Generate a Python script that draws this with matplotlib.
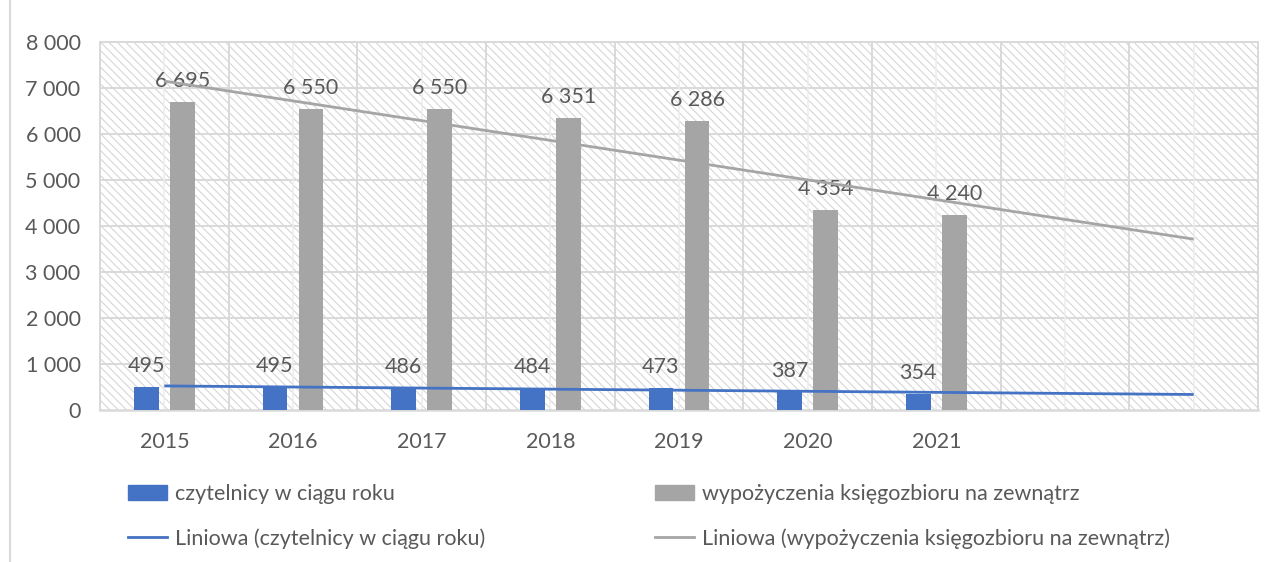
import numpy as np
import matplotlib
matplotlib.use("Agg")
import matplotlib.pyplot as plt
from matplotlib.patches import Rectangle
from matplotlib.lines import Line2D
from matplotlib.ticker import FuncFormatter, MultipleLocator

# ---- data ----
years = ["2015", "2016", "2017", "2018", "2019", "2020", "2021", "", ""]
readers = [495, 495, 486, 484, 473, 387, 354]
loans = [6695, 6550, 6550, 6351, 6286, 4354, 4240]
series_names = ["czytelnicy w ciągu roku", "wypożyczenia księgozbioru na zewnątrz"]
trend_names = ["Liniowa (czytelnicy w ciągu roku)", "Liniowa (wypożyczenia księgozbioru na zewnątrz)"]

BLUE = "#4472C4"
GREY = "#A5A5A5"
TXT = "#595959"
GRID = "#D9D9D9"

plt.rcParams["font.family"] = ["Lato", "DejaVu Sans"]
plt.rcParams["hatch.linewidth"] = 0.75
FS = 15.5

W, H = 1273, 562
fig = plt.figure(figsize=(W / 100, H / 100), dpi=100)
ax = fig.add_axes([100 / W, 1 - 410 / H, (1258 - 100) / W, (410 - 42) / H])

n = len(years)
x = np.arange(n)
ax.set_xlim(-0.5, n - 0.5)
ax.set_ylim(0, 8000)

# hatched background
bg = Rectangle((0, 0), 1, 1, transform=ax.transAxes, facecolor="white",
               edgecolor="#D4D4D4", hatch="\\\\\\\\", linewidth=0, zorder=0)
ax.add_patch(bg)
ax.set_facecolor("white")

# grid
for v in range(1000, 8001, 1000):
    ax.axhline(v, color=GRID, lw=1.4, zorder=1)
for b in np.arange(0.5, n - 0.5, 1.0):
    ax.axvline(b, color=GRID, lw=1.4, zorder=1)
for c in x:
    ax.axvline(c, color="#EDEDED", lw=1.2, zorder=1)

for s in ["top", "right", "left"]:
    ax.spines[s].set_color(GRID)
    ax.spines[s].set_linewidth(1.4)
ax.spines["bottom"].set_color(GRID)
ax.spines["bottom"].set_linewidth(1.8)

bw = 0.19
off = 0.14
xi = np.arange(len(readers))
b1 = ax.bar(xi - off, readers, width=bw, color=BLUE, zorder=3, label=series_names[0])
b2 = ax.bar(xi + off, loans, width=bw, color=GREY, zorder=3, label=series_names[1])

fmt = lambda v: f"{v:,.0f}".replace(",", " ")
ax.bar_label(b1, labels=[fmt(v) for v in readers], padding=8, fontsize=FS, color=TXT)
ax.bar_label(b2, labels=[fmt(v) for v in loans], padding=8, fontsize=FS, color=TXT)

# linear trendlines (forecast 2 periods forward)
for vals, col in [(readers, BLUE), (loans, GREY)]:
    p = np.polyfit(xi, vals, 1)
    ax.plot(x, np.polyval(p, x), color=col, lw=2.0, zorder=4, solid_capstyle="butt")

ax.set_xticks(x)
ax.set_xticklabels(years)
ax.yaxis.set_major_locator(MultipleLocator(1000))
ax.yaxis.set_major_formatter(FuncFormatter(lambda v, p: fmt(v)))
ax.tick_params(axis="x", length=0, pad=15.5, labelsize=FS, labelcolor=TXT)
ax.tick_params(axis="y", length=0, pad=14, labelsize=FS, labelcolor=TXT)

# legends
h1 = [Rectangle((0, 0), 1, 1, color=BLUE), Line2D([], [], color=BLUE, lw=2)]
h2 = [Rectangle((0, 0), 1, 1, color=GREY), Line2D([], [], color=GREY, lw=2)]
common = dict(loc="upper left", frameon=False, fontsize=FS, labelcolor=TXT,
              borderpad=0, handlelength=1.8, handletextpad=0.38, labelspacing=1.12,
              borderaxespad=0)
fig.legend(h1, [series_names[0], trend_names[0]], bbox_to_anchor=(128 / W, 1 - 484 / H), **common)
fig.legend(h2, [series_names[1], trend_names[1]], bbox_to_anchor=(655 / W, 1 - 484 / H), **common)

# chart area border line on the left
fig.add_artist(Line2D([10 / W, 10 / W], [0, 1], transform=fig.transFigure, color=GRID, lw=1.5))

fig.savefig("out.png", dpi=100)
